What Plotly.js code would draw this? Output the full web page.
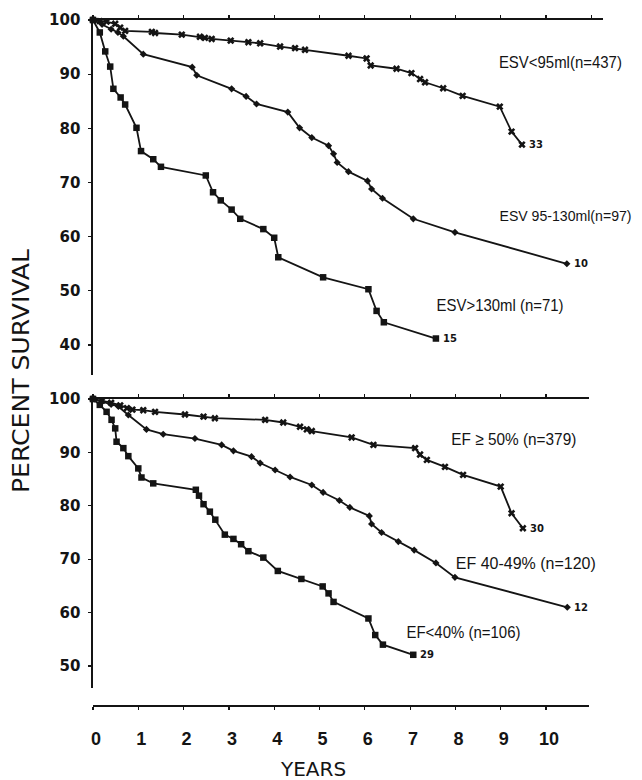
<!DOCTYPE html>
<html>
<head>
<meta charset="utf-8">
<script src="https://cdn.plot.ly/plotly-3.0.1.min.js"></script>
<style>
  html, body { margin: 0; padding: 0; background: #fff; }
  #chart { width: 642px; height: 780px; }
</style>
</head>
<body>
<div id="chart"></div>
<script>
// Survival (%) by years of follow-up, upper panel grouped by end-systolic volume
const esvLowYears  = [0, 0.15, 0.3, 0.49, 0.6, 0.71, 1.3, 1.37, 1.96, 2.36, 2.47, 2.62, 3.04, 3.43, 3.69, 4.13, 4.46, 4.68, 5.64, 6.04, 6.13, 6.70, 7.03, 7.22, 7.33, 7.73, 8.16, 8.98, 9.24, 9.47];
const esvLowSurv   = [100, 99.8, 99.7, 99.3, 98.6, 98.0, 97.8, 97.6, 97.3, 96.9, 96.7, 96.5, 96.2, 95.9, 95.7, 95.1, 94.8, 94.5, 93.4, 92.9, 91.6, 91.0, 90.2, 89.1, 88.5, 87.4, 86.0, 84.0, 79.4, 77.0];

const esvMidYears  = [0, 0.2, 0.4, 0.55, 0.67, 1.11, 2.19, 2.29, 3.06, 3.38, 3.61, 4.3, 4.56, 4.83, 5.2, 5.31, 5.39, 5.64, 6.06, 6.15, 6.39, 7.07, 7.99, 10.46];
const esvMidSurv   = [100, 99.2, 98.3, 97.7, 97.0, 93.7, 91.3, 89.8, 87.3, 85.9, 84.5, 83.0, 80.1, 78.3, 76.8, 75.3, 73.7, 72.0, 70.3, 68.8, 67.1, 63.3, 60.8, 55.0];

const esvHighYears = [0, 0.15, 0.27, 0.38, 0.45, 0.61, 0.71, 0.96, 1.06, 1.33, 1.5, 2.49, 2.65, 2.82, 3.06, 3.25, 3.76, 4.0, 4.09, 5.08, 6.08, 6.26, 6.42, 7.57];
const esvHighSurv  = [100, 97.7, 94.2, 91.4, 87.3, 85.7, 84.4, 80.1, 75.8, 74.3, 72.9, 71.3, 68.2, 66.7, 65.0, 63.3, 61.4, 59.8, 56.2, 52.5, 50.3, 46.3, 44.2, 41.2];

// Lower panel grouped by ejection fraction
const efHighYears  = [0, 0.2, 0.4, 0.6, 0.75, 0.87, 1.11, 1.37, 2.03, 2.44, 2.69, 3.8, 4.2, 4.57, 4.72, 4.83, 5.71, 6.19, 7.11, 7.22, 7.37, 7.77, 8.17, 9.0, 9.24, 9.49];
const efHighSurv   = [100, 99.7, 99.3, 98.8, 98.3, 98.0, 97.9, 97.6, 97.1, 96.7, 96.4, 96.1, 95.6, 94.8, 94.3, 94.0, 92.8, 91.4, 90.8, 89.6, 88.6, 87.3, 85.8, 83.6, 78.6, 75.8];

const efMidYears   = [0, 0.2, 0.4, 0.56, 0.78, 1.18, 1.55, 2.25, 2.84, 3.1, 3.5, 3.69, 4.02, 4.35, 4.83, 5.08, 5.44, 5.67, 6.1, 6.15, 6.37, 6.74, 7.09, 7.57, 7.99, 10.47];
const efMidSurv    = [100, 99.5, 99.0, 98.6, 97.0, 94.3, 93.4, 92.6, 91.4, 90.3, 89.2, 88.0, 86.7, 85.4, 83.9, 82.5, 81.0, 79.7, 78.1, 76.6, 75.0, 73.3, 71.7, 69.3, 66.6, 61.0];

const efLowYears   = [0, 0.15, 0.3, 0.41, 0.49, 0.52, 0.67, 0.78, 1.0, 1.07, 1.33, 2.27, 2.34, 2.44, 2.58, 2.7, 2.91, 3.1, 3.27, 3.43, 3.76, 4.08, 4.6, 5.07, 5.2, 5.31, 6.08, 6.23, 6.4, 7.07];
const efLowSurv    = [100, 98.9, 97.6, 96.1, 94.5, 92.0, 90.8, 89.3, 87.0, 85.3, 84.2, 83.0, 81.9, 80.3, 78.9, 77.4, 74.6, 73.8, 72.8, 71.5, 70.3, 67.8, 66.3, 64.9, 63.6, 62.0, 58.9, 55.8, 54.0, 52.1];

// Group labels and numbers still at risk at the last follow-up point
const groupLabels = ['ESV<95ml(n=437)', 'ESV 95-130ml(n=97)', 'ESV>130ml (n=71)',
                     'EF \u2265 50% (n=379)', 'EF 40-49% (n=120)', 'EF<40% (n=106)'];
const atRisk = ['33', '10', '15', '30', '12', '29'];

const yearTicks = [0, 1, 2, 3, 4, 5, 6, 7, 8, 9, 10];

// ---- page geometry (pixels) ----
const W = 642, H = 780;
const M = { l: 93, r: 39, t: 20, b: 75 };
const PW = W - M.l - M.r, PH = H - M.t - M.b;
const pxPerYear = 45.3;
const fx = px => (px - M.l) / PW;          // pixel -> paper x
const fy = py => (H - M.b - py) / PH;      // pixel -> paper y

const INK = '#141414';
const SANS = '"Liberation Sans", Arial, sans-serif';
const DEJA = '"DejaVu Sans", sans-serif';

function curve(x, y, xa, ya, symbol, size) {
  return {
    x: x, y: y, xaxis: xa, yaxis: ya, type: 'scatter', mode: 'lines+markers',
    line: { color: INK, width: 1.8 },
    marker: { symbol: symbol, size: size, color: INK, line: { width: 0 } },
    hoverinfo: 'x+y', showlegend: false, cliponaxis: false
  };
}

const traces = [
  curve(esvLowYears, esvLowSurv, 'x', 'y', 'x', 6.5),
  curve(esvMidYears, esvMidSurv, 'x', 'y', 'diamond', 5.5),
  curve(esvHighYears, esvHighSurv, 'x', 'y', 'square', 6.5),
  curve(efHighYears, efHighSurv, 'x2', 'y2', 'x', 6.5),
  curve(efMidYears, efMidSurv, 'x2', 'y2', 'diamond', 5.5),
  curve(efLowYears, efLowSurv, 'x3', 'y2', 'square', 6.5)
];

const topBottomPx = 375, lowTopPx = 399, lowBottomPx = 688;
const topScale = 5.417, lowScale = 5.34;
const lowWidthPx = 496;

const refLine = {
  showline: true, linecolor: INK, linewidth: 1.6, zeroline: false, showgrid: false,
  ticks: 'outside', ticklen: 3, tickwidth: 1.2, tickcolor: INK,
  showticklabels: false, dtick: 1, tick0: 0, fixedrange: true
};

const yCommon = {
  showline: true, linecolor: INK, linewidth: 1.6, zeroline: false, showgrid: false,
  ticks: 'outside', ticklen: 3, tickwidth: 1.2, tickcolor: INK,
  tick0: 0, dtick: 10, ticklabelstandoff: 5,
  tickfont: { family: DEJA, size: 15, weight: 'bold', color: INK },
  fixedrange: true
};

const layout = {
  width: W, height: H, margin: M,
  paper_bgcolor: '#ffffff', plot_bgcolor: 'rgba(0,0,0,0)',
  showlegend: false,
  xaxis: Object.assign({}, refLine, {
    domain: [0, 1], range: [0, PW / pxPerYear], anchor: 'y', side: 'top'
  }),
  yaxis: Object.assign({}, yCommon, {
    domain: [fy(topBottomPx), 1],
    range: [100 - (topBottomPx - M.t) / topScale, 100]
  }),
  xaxis2: Object.assign({}, refLine, {
    domain: [0, lowWidthPx / PW], range: [0, lowWidthPx / pxPerYear], anchor: 'y2', side: 'top'
  }),
  yaxis2: Object.assign({}, yCommon, {
    domain: [fy(lowBottomPx), fy(lowTopPx)],
    range: [100 - (lowBottomPx - lowTopPx) / lowScale, 100]
  }),
  xaxis3: {
    overlaying: 'x2', matches: 'x2', anchor: 'free', position: 0, side: 'bottom',
    domain: [0, lowWidthPx / PW],
    showline: true, linecolor: INK, linewidth: 1.6, zeroline: false, showgrid: false,
    ticks: 'outside', ticklen: 3, tickwidth: 1.2, tickcolor: INK,
    tickmode: 'array', tickvals: yearTicks, ticktext: yearTicks.map(String),
    ticklabelstandoff: 14, ticklabelshift: 3,
    tickfont: { family: SANS, size: 18, weight: 'bold', color: INK },
    fixedrange: true
  },
  annotations: []
};

const ann = layout.annotations;
// curve labels: [left px, right px, centre y px, font size] of each label; right-aligned
const labelBoxes = [[500, 623, 62, 17], [501, 633, 215, 15], [438, 565, 305, 17],
                    [452, 577, 440, 17], [457, 597, 563, 17], [407, 521, 632, 17]];
labelBoxes.forEach((b, i) => {
  ann.push({ xref: 'paper', yref: 'paper', x: fx(b[1]), y: fy(b[2]),
             xanchor: 'right', yanchor: 'middle', align: 'right', borderpad: 0,
             text: groupLabels[i], showarrow: false, font: { family: SANS, size: b[3], color: INK } });
});

// numbers at risk beside the last point of each curve
const lastPts = [
  [esvLowYears, esvLowSurv, 'x', 'y'], [esvMidYears, esvMidSurv, 'x', 'y'], [esvHighYears, esvHighSurv, 'x', 'y'],
  [efHighYears, efHighSurv, 'x2', 'y2'], [efMidYears, efMidSurv, 'x2', 'y2'], [efLowYears, efLowSurv, 'x2', 'y2']
];
lastPts.forEach((s, i) => {
  const n = s[0].length - 1;
  ann.push({ xref: s[2], yref: s[3], x: s[0][n], y: s[1][n], xanchor: 'left', yanchor: 'middle',
             xshift: 5, text: atRisk[i], showarrow: false,
             font: { family: DEJA, size: 10, weight: 'bold', color: INK } });
});

// axis titles
ann.push({ xref: 'paper', yref: 'paper', x: fx(313), y: fy(769), xanchor: 'center', yanchor: 'middle',
           text: 'YEARS', showarrow: false, font: { family: DEJA, size: 20, color: INK } });
ann.push({ xref: 'paper', yref: 'paper', x: fx(21), y: fy(371), xanchor: 'center', yanchor: 'middle',
           text: 'PERCENT SURVIVAL', textangle: -90, showarrow: false,
           font: { family: DEJA, size: 23, color: INK } });

// condensed lettering: squeeze a text run to a set width and shrink its
// annotation box to match (boxes keep their right edge for end-anchored text)
function squeeze(textEl, width) {
  const natural = textEl.getComputedTextLength();
  textEl.setAttribute('textLength', width);
  textEl.setAttribute('lengthAdjust', 'spacingAndGlyphs');
  const box = textEl.parentNode && textEl.parentNode.querySelector('rect.bg');
  if (box && width < natural) {
    const w0 = parseFloat(box.getAttribute('width'));
    const w1 = w0 - (natural - width);
    const anchor = textEl.getAttribute('text-anchor');
    const shift = anchor === 'end' ? (w0 - w1) : anchor === 'start' ? 0 : (w0 - w1) / 2;
    box.setAttribute('x', parseFloat(box.getAttribute('x') || 0) + shift);
    box.setAttribute('width', w1);
  }
}

Plotly.newPlot('chart', traces, layout, { staticPlot: true, displayModeBar: false }).then(gd => {
  gd.querySelectorAll('.annotation-text').forEach(t => {
    const idx = groupLabels.indexOf(t.textContent);
    if (idx >= 0) squeeze(t, labelBoxes[idx][1] - labelBoxes[idx][0]);
    if (t.textContent === 'PERCENT SURVIVAL') squeeze(t, 244);
  });
  gd.querySelectorAll('.xtick text').forEach(t => {
    squeeze(t, t.getComputedTextLength() * 0.78);
  });
});
</script>
</body>
</html>
